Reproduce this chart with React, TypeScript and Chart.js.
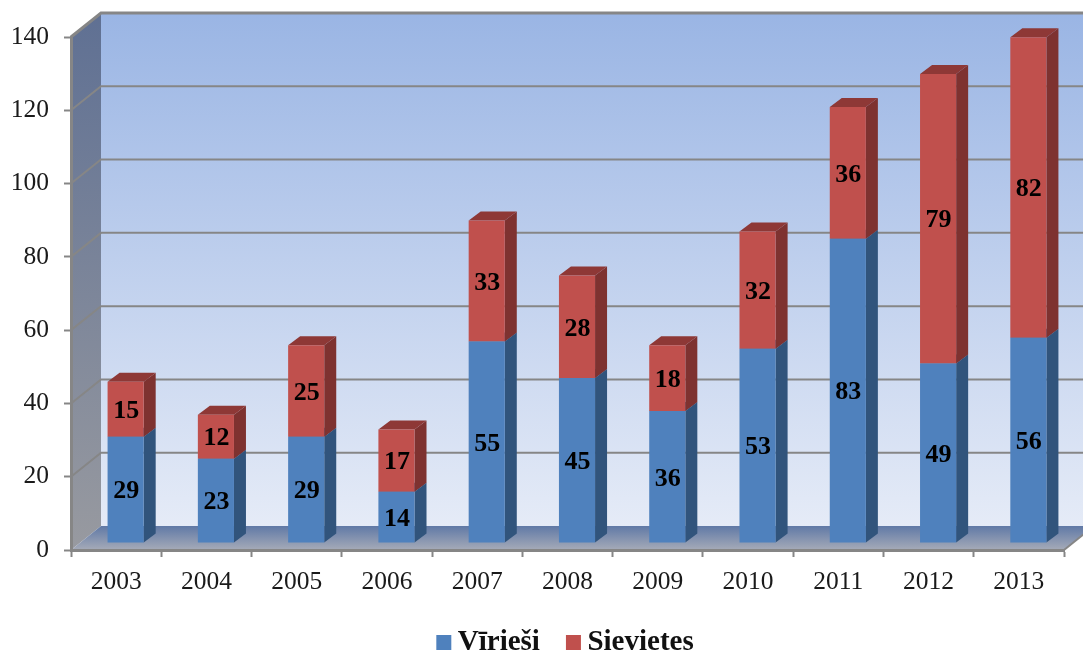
import React, { useEffect, useRef } from "react";
import { Chart, registerables } from "chart.js";

Chart.register(...registerables);

const years = ["2003","2004","2005","2006","2007","2008","2009","2010","2011","2012","2013"];
const men = [29,23,29,14,55,45,36,53,83,49,56];
const women = [15,12,25,17,33,28,18,32,36,79,82];
const seriesNames = ["Vīrieši","Sievietes"];
const yMax = 140;
const yStep = 20;

const W = 1083, H = 651;
const SERIF = '"Liberation Serif", serif';
const AXIS = "#868686";
const WALL = { dx: 30, dy: -24 };
const BAR_OFF = { dx: 9.5, dy: -7 };
const BAR_DEPTH = { dx: 12, dy: -9 };
const LEGEND_SHIFT = 33;
const SHADES = [
  { front: "#4f81bd", side: "#31547c", top: "#3a6291" },
  { front: "#c0504d", side: "#7e3230", top: "#8e3836" },
];

function poly(ctx: CanvasRenderingContext2D, pts: number[][], fill: any) {
  ctx.beginPath();
  pts.forEach((p, i) => (i ? ctx.lineTo(p[0], p[1]) : ctx.moveTo(p[0], p[1])));
  ctx.closePath();
  ctx.fillStyle = fill;
  ctx.fill();
}

const scene3d = {
  id: "scene3d",
  afterLayout(chart: any) {
    chart.legend.left += LEGEND_SHIFT;
    chart.legend.right += LEGEND_SHIFT;
  },
  beforeDraw(chart: any) {
    const { ctx, chartArea: a, scales } = chart;
    const y = scales.y;
    const L = a.left, R = a.right, T = a.top, B = a.bottom;
    const d = WALL;
    ctx.save();
    const wall = ctx.createLinearGradient(0, T + d.dy, 0, B + d.dy);
    wall.addColorStop(0, "#9ab5e4");
    wall.addColorStop(1, "#e5ebf7");
    ctx.fillStyle = wall;
    ctx.fillRect(L + d.dx, T + d.dy, R - L, B - T);

    const side = ctx.createLinearGradient(0, T + d.dy, 0, B);
    side.addColorStop(0, "#5f7093");
    side.addColorStop(1, "#989aa0");
    poly(ctx, [[L, T], [L + d.dx, T + d.dy], [L + d.dx, B + d.dy], [L, B]], side);

    ctx.strokeStyle = AXIS;
    for (let v = yStep; v <= yMax; v += yStep) {
      const py = y.getPixelForValue(v);
      ctx.lineWidth = v === yMax ? 3 : 2;
      ctx.beginPath();
      ctx.moveTo(L, py);
      ctx.lineTo(L + d.dx, py + d.dy);
      ctx.lineTo(R + d.dx, py + d.dy);
      ctx.stroke();
    }

    ctx.lineWidth = 2;
    const floor = ctx.createLinearGradient(0, B + d.dy, 0, B);
    floor.addColorStop(0, "#6079a6");
    floor.addColorStop(1, "#a6abb8");
    poly(ctx, [[L, B], [L + d.dx, B + d.dy], [R + d.dx, B + d.dy], [R, B]], floor);
    ctx.beginPath();
    ctx.moveTo(R, B);
    ctx.lineTo(R + d.dx, B + d.dy);
    ctx.stroke();
    ctx.restore();
  },
  beforeDatasetsDraw(chart: any) {
    const { ctx } = chart;
    ctx.save();
    ctx.translate(BAR_OFF.dx, BAR_OFF.dy);
    chart.data.datasets.forEach((_: any, di: number) => {
      const shade = SHADES[di];
      chart.getDatasetMeta(di).data.forEach((bar: any) => {
        const { x, y, base, width } = bar.getProps(["x", "y", "base", "width"], true);
        const r = x + width / 2, l = x - width / 2;
        const b = BAR_DEPTH;
        poly(ctx, [[r, y], [r + b.dx, y + b.dy], [r + b.dx, base + b.dy], [r, base]], shade.side);
        poly(ctx, [[l, y], [l + b.dx, y + b.dy], [r + b.dx, y + b.dy], [r, y]], shade.top);
      });
    });
  },
  afterDatasetsDraw(chart: any) {
    const { ctx } = chart;
    ctx.font = `bold 26px ${SERIF}`;
    ctx.fillStyle = "#000";
    ctx.textAlign = "center";
    ctx.textBaseline = "middle";
    chart.data.datasets.forEach((ds: any, di: number) => {
      chart.getDatasetMeta(di).data.forEach((bar: any, i: number) => {
        const { x, y, base } = bar.getProps(["x", "y", "base"], true);
        ctx.fillText(String(ds.data[i]), x + 0.5, (y + base) / 2 + 2);
      });
    });
    ctx.restore();
  },
};

function legendSwatch(color: string) {
  const c = document.createElement("canvas");
  c.width = 31;
  c.height = 15;
  const g = c.getContext("2d")!;
  g.fillStyle = color;
  g.fillRect(12, 0, 15, 15);
  return c;
}

export default function App() {
  const ref = useRef<HTMLCanvasElement>(null);
  useEffect(() => {
    const chart = new Chart(ref.current!, {
      type: "bar",
      data: {
        labels: years,
        datasets: [
          { label: seriesNames[0], data: men, backgroundColor: SHADES[0].front, clip: false as any, pointStyle: legendSwatch(SHADES[0].front) as any },
          { label: seriesNames[1], data: women, backgroundColor: SHADES[1].front, clip: false as any, pointStyle: legendSwatch(SHADES[1].front) as any },
        ],
      },
      plugins: [scene3d],
      options: {
        responsive: false,
        animation: false,
        layout: { autoPadding: false, padding: { left: 0, top: 37, right: 19, bottom: -16 } },
        categoryPercentage: 0.4,
        barPercentage: 1,
        scales: {
          x: {
            stacked: true,
            afterFit: (s: any) => { s.height = 52; },
            grid: { offset: true, drawOnChartArea: false, drawTicks: true, tickLength: 7, tickColor: AXIS, tickWidth: 2 },
            border: { display: true, color: AXIS, width: 3 },
            ticks: { color: "#1a1a1a", font: { family: SERIF, size: 25.5 }, padding: 10, autoSkip: false, maxRotation: 0 },
          },
          y: {
            stacked: true,
            min: 0,
            max: yMax,
            afterFit: (s: any) => { s.width = 71; },
            grid: { drawOnChartArea: false, drawTicks: true, tickLength: 7, tickColor: AXIS, tickWidth: 2 },
            border: { display: true, color: AXIS, width: 3 },
            ticks: { stepSize: yStep, color: "#1a1a1a", font: { family: SERIF, size: 25.5 }, padding: 15 },
          },
        },
        plugins: {
          tooltip: { enabled: false },
          legend: {
            position: "bottom",
            labels: {
              usePointStyle: true,
              pointStyleWidth: 7,
              padding: 26,
              color: "#111",
              font: { family: SERIF, size: 29, weight: "bold" },
            },
          },
        },
      } as any,
    });
    return () => chart.destroy();
  }, []);
  return (
    <div style={{ position: "fixed", left: 0, top: 0, width: W, height: H, background: "#fff", overflow: "hidden" }}>
      <canvas ref={ref} width={W} height={H} style={{ display: "block" }} />
    </div>
  );
}
